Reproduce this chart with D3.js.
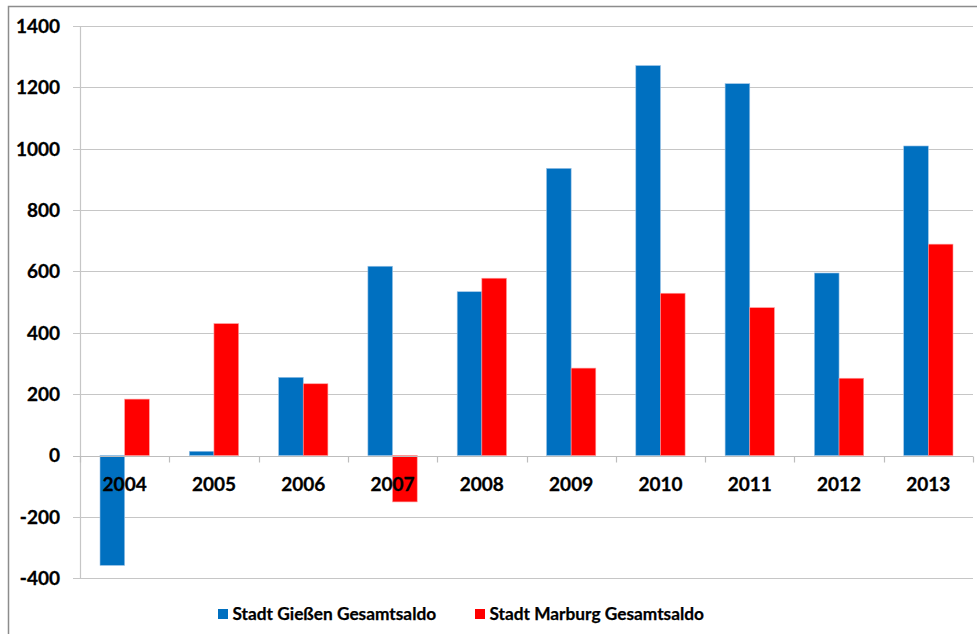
<!DOCTYPE html>
<html><head><meta charset="utf-8">
<script src="https://cdn.jsdelivr.net/npm/d3@7"></script>
<style>body{margin:0;background:#fff}svg{display:block}</style>
</head><body>
<script>
const years = ["2004","2005","2006","2007","2008","2009","2010","2011","2012","2013"];
const seriesNames = ["Stadt Gießen Gesamtsaldo","Stadt Marburg Gesamtsaldo"];
const giessen = [-358, 14, 255, 617, 534, 936, 1271, 1212, 595, 1009];
const marburg = [184, 430, 234, -151, 578, 285, 529, 482, 252, 689];
const yTicks = [-400,-200,0,200,400,600,800,1000,1200,1400];
const colors = ["#0070C0","#FF0000"];

(function(){
const W = 977, H = 634;
const svg = d3.select("body").append("svg").attr("width", W).attr("height", H);
const font = "Lato, 'Open Sans', sans-serif";

svg.append("rect").attr("x",8.5).attr("y",6.5).attr("width",1000).attr("height",700)
  .attr("fill","#fff").attr("stroke","#8c8c8c").attr("stroke-width",1.5);

const pLeft = 80, pRight = 973, pTop = 26, pBottom = 578.3;
const y = d3.scaleLinear().domain([-400,1400]).range([pBottom, pTop]);
const x0 = d3.scaleBand().domain(years).range([pLeft, pRight]).padding(0);
const bw = x0.bandwidth();
const x1 = d3.scaleBand().domain(seriesNames).range([0.224*bw, 0.776*bw]).padding(0);

// gridlines
svg.append("g").selectAll("line").data(yTicks.filter(t=>t!==0)).join("line")
  .attr("x1",73).attr("x2",pRight).attr("y1",d=>Math.round(y(d))+0.5).attr("y2",d=>Math.round(y(d))+0.5)
  .attr("stroke","#c6c6c6").attr("stroke-width",1.2);

// y axis line
svg.append("line").attr("x1",pLeft+0.5).attr("x2",pLeft+0.5).attr("y1",pTop).attr("y2",pBottom)
  .attr("stroke","#c6c6c6").attr("stroke-width",1.2);

// y labels
svg.append("g").selectAll("text").data(yTicks).join("text")
  .attr("x",60).attr("y",d=>y(d)).attr("dy","0.36em").attr("text-anchor","end")
  .attr("font-family",font).attr("font-weight","bold").attr("font-size",19).attr("fill","#000")
  .attr("stroke","#000").attr("stroke-width",0.3)
  .text(d=>d);

// bars
const data = years.map((yr,i)=>({year:yr, vals:[giessen[i], marburg[i]]}));
const g = svg.append("g");
data.forEach(d=>{
  d.vals.forEach((v,j)=>{
    g.append("rect")
      .attr("x", x0(d.year)+x1(seriesNames[j]))
      .attr("width", x1.bandwidth())
      .attr("y", y(Math.max(0,v)))
      .attr("height", Math.abs(y(v)-y(0)))
      .attr("fill", colors[j])
      .attr("stroke", j===0 ? "#9cc3e6" : "#ff9a9a").attr("stroke-width",0.6);
  });
});

// x axis line at 0 with ticks
const y0 = Math.round(y(0))+0.5;
svg.append("line").attr("x1",73).attr("x2",pRight).attr("y1",y0).attr("y2",y0)
  .attr("stroke","#bdbdbd").attr("stroke-width",1.2);
const bounds = years.map(yr=>x0(yr)).concat([pRight]);
svg.append("g").selectAll("line").data(bounds).join("line")
  .attr("x1",d=>Math.round(d)+0.5).attr("x2",d=>Math.round(d)+0.5).attr("y1",y0).attr("y2",y0+6)
  .attr("stroke","#bdbdbd").attr("stroke-width",1.2);

// x labels
svg.append("g").selectAll("text").data(years).join("text")
  .attr("x",d=>x0(d)+bw/2).attr("y",490.5).attr("text-anchor","middle")
  .attr("font-family",font).attr("font-weight","bold").attr("font-size",19).attr("fill","#000")
  .attr("stroke","#000").attr("stroke-width",0.3)
  .text(d=>d);

// legend
const legX = [218, 475];
const lg = svg.append("g");
seriesNames.forEach((n,i)=>{
  lg.append("rect").attr("x",legX[i]).attr("y",609).attr("width",10).attr("height",10).attr("fill",colors[i]);
  lg.append("text").attr("x",legX[i]+14.5).attr("y",620)
    .attr("font-family",font).attr("font-weight","bold").attr("font-size",17.3).attr("fill","#000")
    .attr("stroke","#000").attr("stroke-width",0.25)
    .text(n);
});
})();
</script>
</body></html>
